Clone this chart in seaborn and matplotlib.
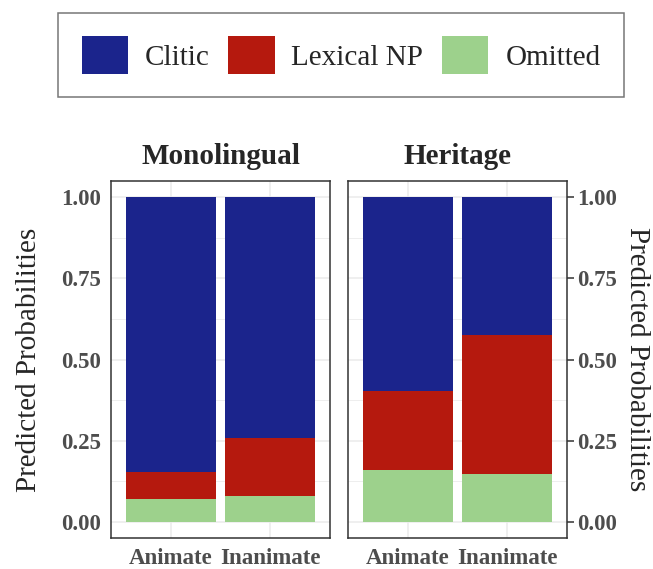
import numpy as np
import pandas as pd
import matplotlib
matplotlib.use("Agg")
import matplotlib.pyplot as plt
import seaborn as sns
from matplotlib.patches import Patch
from matplotlib.ticker import MultipleLocator

# 数据（从图上读出的预测概率）
groups = ["Monolingual", "Heritage"]
animacy = ["Animate", "Inanimate"]
responses = ["Clitic", "Lexical NP", "Omitted"]
omitted = [0.070, 0.080, 0.160, 0.147]
lexical = [0.084, 0.177, 0.244, 0.427]
clitic = [0.846, 0.743, 0.596, 0.426]

colors = {"Clitic": "#1b248c", "Lexical NP": "#b5190e", "Omitted": "#9dd18c"}

sns.set_style("white")
plt.rcParams['font.family'] = ['Liberation Serif', 'DejaVu Serif']

df = pd.DataFrame({
    "group": [g for g in groups for a in animacy],
    "animacy": [a for g in groups for a in animacy],
    "Omitted": omitted,
    "Lexical NP": lexical,
    "Clitic": clitic,
})
# 堆叠：底部 Omitted，中间 Lexical NP，顶部 Clitic
df["top_Omitted"] = df["Omitted"]
df["top_Lexical NP"] = df["Omitted"] + df["Lexical NP"]
df["top_Clitic"] = df["top_Lexical NP"] + df["Clitic"]

fig = plt.figure(figsize=(6.53, 5.69), dpi=100)
ax1 = fig.add_axes([111/653, 31/569, 219/653, 357/569])
ax2 = fig.add_axes([348/653, 31/569, 219/653, 357/569])
ax2.yaxis.tick_right()
ax2.yaxis.set_label_position("right")

for ax, g in zip([ax1, ax2], groups):
    sub = df[df.group == g]
    for r in ["Clitic", "Lexical NP", "Omitted"]:
        sns.barplot(data=sub, x="animacy", y="top_" + r, order=animacy,
                    color=colors[r], saturation=1, width=0.9, linewidth=0,
                    errorbar=None, ax=ax, zorder=2)
    ax.set_xlim(-0.6, 1.6)
    ax.set_ylim(-0.05, 1.05)
    ax.set_yticks([0, 0.25, 0.5, 0.75, 1.0])
    ax.set_yticklabels(["0.00", "0.25", "0.50", "0.75", "1.00"])
    ax.yaxis.set_minor_locator(MultipleLocator(0.125))
    ax.set_axisbelow(True)
    ax.grid(which="major", color="#ebebeb", lw=1.1)
    ax.grid(which="minor", axis="y", color="#ebebeb", lw=0.6)
    ax.tick_params(which="minor", length=0)
    ax.tick_params(which="major", length=5, width=1.1, color="#333333",
                   labelsize=16.5, labelcolor="#4d4d4d", pad=2)
    for lab in ax.get_xticklabels() + ax.get_yticklabels():
        lab.set_fontweight("bold")
    for s in ax.spines.values():
        s.set_color("#333333")
        s.set_linewidth(1.1)
    ax.set_xlabel("")
    ax.set_title(g, fontsize=21, fontweight="bold", pad=12)

ax1.set_ylabel("Predicted Probabilities", fontsize=21, labelpad=14)
ax2.set_ylabel("Predicted Probabilities", fontsize=21, rotation=270,
               va="bottom", labelpad=5)

handles = [Patch(facecolor=colors[r], edgecolor="none", label=r) for r in responses]
leg = fig.legend(handles=handles, loc="center", ncol=3,
                 bbox_to_anchor=(341/653, 1 - 55/569), fontsize=21,
                 frameon=True, fancybox=False, handlelength=1.58,
                 handleheight=1.58, handletextpad=0.58, columnspacing=0.65,
                 borderpad=0.8)
leg.get_frame().set_edgecolor("#555555")
leg.get_frame().set_linewidth(1.1)

plt.savefig("out.png", dpi=100)
